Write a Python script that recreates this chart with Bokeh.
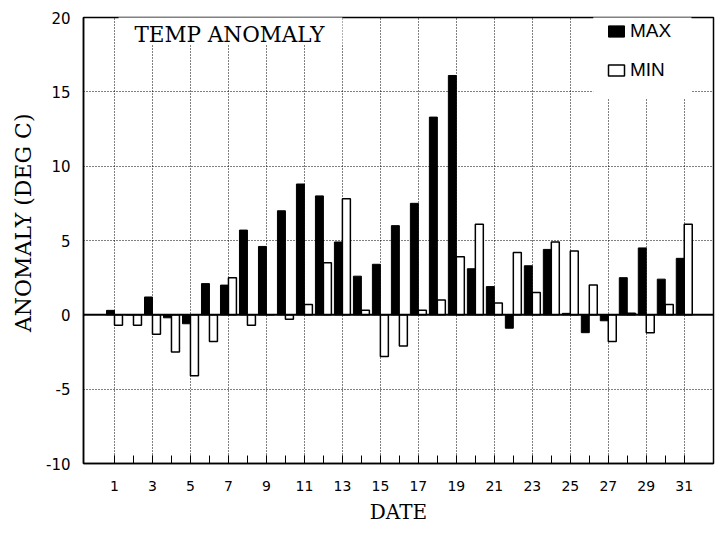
from bokeh.plotting import figure
from bokeh.models import (ColumnDataSource, Range1d, FixedTicker, Span,
                          BoxAnnotation, Label, Legend, LegendItem, Title)
from bokeh.transform import dodge
from bokeh.embed import file_html
from bokeh.resources import INLINE

# ---- data ----
days = list(range(1, 32))
max_anom = [0.3, 0.0, 1.2, -0.2, -0.6, 2.1, 2.0, 5.7, 4.6, 7.0,
            8.8, 8.0, 4.9, 2.6, 3.4, 6.0, 7.5, 13.3, 16.1, 3.1,
            1.9, -0.9, 3.3, 4.4, 0.1, -1.2, -0.4, 2.5, 4.5, 2.4, 3.8]
min_anom = [-0.7, -0.7, -1.3, -2.5, -4.1, -1.8, 2.5, -0.7, 0.0, -0.3,
            0.7, 3.5, 7.8, 0.3, -2.8, -2.1, 0.3, 1.0, 3.9, 6.1,
            0.8, 4.2, 1.5, 4.9, 4.3, 2.0, -1.8, 0.1, -1.2, 0.7, 6.1]
x_label_ticks = list(range(1, 32, 2))
y_ticks = [-10, -5, 0, 5, 10, 15, 20]
y_tick_labels = ["-10", "-5", "0", "5", "10", "15", "20"]
y_grid_ticks = [-5, 5, 10, 15]
title_text = "TEMP ANOMALY"
x_title = "DATE"
y_title = "ANOMALY (DEG C)"
series_names = ["MAX", "MIN"]

src = ColumnDataSource(dict(day=days, max=max_anom, min=min_anom))

p = figure(width=720, height=527,
           x_range=Range1d(-0.632, 32.54), y_range=Range1d(-10, 20),
           output_backend="svg", toolbar_location=None,
           min_border_left=83, min_border_right=7,
           min_border_top=17, min_border_bottom=64)
p.background_fill_color = "white"
p.border_fill_color = "white"
p.outline_line_color = "black"
p.outline_line_width = 1.5

bw = 0.42
r_max = p.vbar(x=dodge('day', -bw / 2, range=p.x_range), top='max', bottom=0,
               width=bw, source=src, fill_color="black", line_color="black",
               line_width=1)
r_min = p.vbar(x=dodge('day', bw / 2, range=p.x_range), top='min', bottom=0,
               width=bw, source=src, fill_color="white", line_color="black",
               line_width=1.5)

# grids
p.xgrid.ticker = FixedTicker(ticks=x_label_ticks)
p.ygrid.ticker = FixedTicker(ticks=y_grid_ticks)
p.grid.grid_line_color = "black"
p.grid.grid_line_dash = "1 2"
p.grid.grid_line_width = 1

# x axis
xa = p.xaxis[0]
xa.ticker = FixedTicker(ticks=x_label_ticks, minor_ticks=days)
xa.major_tick_in = 8
xa.major_tick_out = 0
xa.minor_tick_in = 8
xa.minor_tick_out = 0
xa.major_tick_line_color = "black"
xa.minor_tick_line_color = "black"
xa.axis_line_color = "black"
xa.axis_line_width = 1.5
xa.major_label_text_font = "DejaVu Sans"
xa.major_label_text_font_size = "14px"
xa.major_label_text_color = "black"
xa.major_label_standoff = 17
xa.axis_label = x_title
xa.axis_label_text_font = "DejaVu Serif"
xa.axis_label_text_font_size = "20px"
xa.axis_label_text_font_style = "normal"
xa.axis_label_text_color = "black"
xa.axis_label_standoff = 6

# y axis
ya = p.yaxis[0]
ya.ticker = FixedTicker(ticks=y_ticks)
ya.major_label_overrides = {t: s for t, s in zip(y_ticks, y_tick_labels)}
ya.major_tick_in = 0
ya.major_tick_out = 0
ya.minor_tick_in = 0
ya.minor_tick_out = 0
ya.axis_line_color = "black"
ya.axis_line_width = 1.5
ya.major_label_text_font = "DejaVu Sans"
ya.major_label_text_font_size = "15px"
ya.major_label_text_color = "black"
ya.major_label_standoff = 13

# y axis title as a side title (its top end sits below the frame top, as in the original)
p.add_layout(Title(text=y_title, align="right", offset=96, standoff=16,
                   text_font="DejaVu Serif", text_font_size="22px",
                   text_font_style="normal", text_color="black"), "left")

# zero line
p.add_layout(Span(location=0, dimension="width", line_color="black", line_width=2))

# title box (covers the top frame line)
p.add_layout(BoxAnnotation(left=1.21, right=13.0, bottom=18.18, top=21,
                           fill_color="white", fill_alpha=1, line_color=None))
p.add_layout(Label(x=2.05, y=18.84, text=title_text, text_font="DejaVu Serif",
                   text_font_size="21.5px", text_color="black",
                   text_baseline="alphabetic"))

# legend box (covers the top frame line and gridlines)
p.add_layout(BoxAnnotation(left=26.21, right=31.38, bottom=14.55, top=21,
                           fill_color="white", fill_alpha=1, line_color=None))

legend = Legend(items=[LegendItem(label=series_names[0], renderers=[r_max]),
                       LegendItem(label=series_names[1], renderers=[r_min])],
                location=(523, 382), orientation="vertical",
                glyph_width=20, glyph_height=14, label_standoff=4,
                spacing=17, padding=13, margin=0,
                label_text_font="Liberation Sans", label_text_font_size="19px",
                label_text_color="black",
                border_line_color=None, background_fill_alpha=0)
p.add_layout(legend)

open("out.html", "w").write(file_html(p, INLINE))
